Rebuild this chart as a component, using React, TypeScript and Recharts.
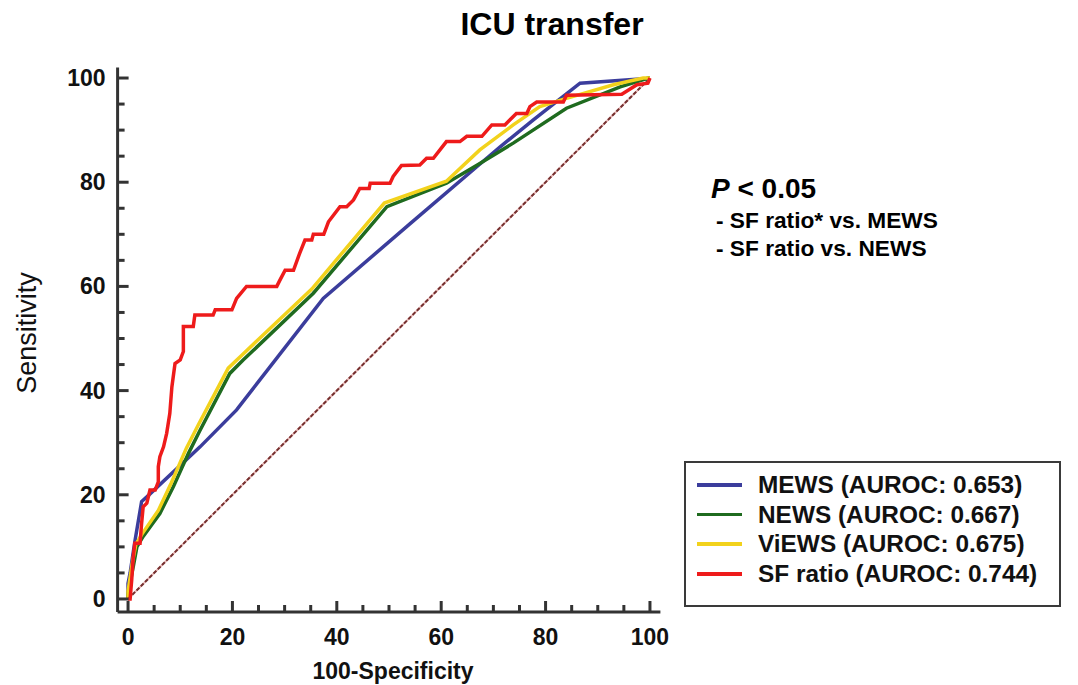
import { Line, LineChart, XAxis, YAxis } from "recharts";

// ROC points: x = 100-Specificity, y = Sensitivity
const mewsFpr = [0, 0, 0.4, 1.3, 2.6, 3.6, 13.8, 20.8, 37.4, 54, 71.3, 77.6, 86.6, 99.4, 100];
const mewsSens = [0, 3, 5, 11, 18.7, 19.6, 29.2, 36.3, 57.7, 72, 86.8, 91.9, 99, 99.9, 100];

const newsFpr = [0, 0, 1, 1.7, 2.9, 6.1, 8.7, 11.6, 13.8, 19.5, 22.1, 35.5, 49.6, 61, 67.4, 73.8, 84, 94.3, 99.4, 100];
const newsSens = [0, 1, 6.2, 10, 12, 16.4, 21.6, 28, 32.4, 43.3, 45.9, 58.7, 75.3, 79.8, 83.6, 87.5, 94.2, 98.3, 99.9, 100];

const viewsFpr = [0, 0, 0.8, 1.5, 2.7, 5.8, 8.3, 11.2, 13.5, 19.2, 21.8, 35.2, 49.1, 61, 67.4, 73.8, 78.9, 84, 93, 98.7, 100];
const viewsSens = [0, 1.5, 6.8, 10.5, 12.5, 17, 22.3, 29, 33.5, 44.3, 46.8, 59.5, 76, 80.2, 86.2, 91, 94.5, 96.1, 98.7, 100, 100];

const sfFpr = [
  0, 0.4, 0.7, 1, 1.3, 2.3, 2.6, 2.9, 3.6, 4.2, 5.2, 5.8, 5.8, 6.1, 6.8, 7.4, 8, 8.4, 9, 10, 10.6, 10.6,
  12.5, 12.8, 16.3, 16.7, 19.9, 20.8, 22.7, 28.5, 29.1, 30.1, 31.7, 32.9, 33.9, 35.2, 35.5, 37.5, 38.4,
  40.6, 41.9, 43.2, 44.4, 46.2, 46.4, 50.2, 50.8, 52.4, 55.9, 57.2, 58.5, 61, 63.6, 64.9, 67.8, 69.7,
  72.2, 74.4, 76.4, 77, 78.3, 83.4, 84, 94.6, 97.5, 99.6, 100,
];
const sfSens = [
  0, 0, 3.6, 8.1, 10.7, 10.7, 14.5, 17.7, 18.4, 20.9, 20.9, 22.5, 25.4, 27.3, 29.2, 31.8, 35.6, 40.7,
  45.2, 45.9, 47.5, 52.3, 52.3, 54.5, 54.5, 55.5, 55.5, 57.7, 60, 60, 61.2, 63.1, 63.1, 66.4, 68.9,
  68.9, 70, 70, 72.4, 75.3, 75.3, 76.6, 78.8, 78.8, 79.8, 79.8, 81.1, 83.2, 83.3, 84.6, 84.6, 87.8,
  87.8, 88.8, 88.8, 91, 91, 93.2, 93.2, 94.5, 95.4, 95.4, 96.7, 96.9, 98.7, 99, 100,
];

const refFpr = [0, 100];
const refSens = [0, 100];

const axisTicks = [0, 5, 10, 15, 20, 25, 30, 35, 40, 45, 50, 55, 60, 65, 70, 75, 80, 85, 90, 95, 100];
const labelTicks = [0, 20, 40, 60, 80, 100];

const toPoints = (xs: number[], ys: number[]) => xs.map((x, i) => ({ x, y: ys[i] }));

const series = [
  { name: "MEWS (AUROC: 0.653)", color: "#3b3d9c", data: toPoints(mewsFpr, mewsSens) },
  { name: "NEWS (AUROC: 0.667)", color: "#1f6b1f", data: toPoints(newsFpr, newsSens) },
  { name: "ViEWS (AUROC: 0.675)", color: "#f2d21c", data: toPoints(viewsFpr, viewsSens) },
  { name: "SF ratio (AUROC: 0.744)", color: "#ee1b1b", data: toPoints(sfFpr, sfSens) },
];

const FONT = '"Liberation Sans", Arial, sans-serif';
const AXIS = "#333333";

function XTick({ x, y, payload }: any) {
  const major = labelTicks.includes(payload.value);
  return (
    <g>
      <line x1={x} x2={x} y1={y} y2={y - (major ? 11 : 7)} stroke={AXIS} strokeWidth={3} />
      {major && (
        <text x={x} y={y + 33} textAnchor="middle" fontFamily={FONT} fontWeight="bold" fontSize={23} fill="#111">
          {payload.value}
        </text>
      )}
    </g>
  );
}

function YTick({ x, y, payload }: any) {
  const major = labelTicks.includes(payload.value);
  return (
    <g>
      <line x1={x} x2={x + (major ? 11 : 7)} y1={y} y2={y} stroke={AXIS} strokeWidth={3} />
      {major && (
        <text x={x - 12} y={y + 8} textAnchor="end" fontFamily={FONT} fontWeight="bold" fontSize={23} fill="#111">
          {payload.value}
        </text>
      )}
    </g>
  );
}

export default function App() {
  return (
    <div style={{ width: 1078, height: 685, padding: 8, boxSizing: "border-box", overflow: "hidden" }}>
      <style>{"html,body{margin:0;padding:0;overflow:hidden}"}</style>
      <div style={{ position: "relative", width: 1062, height: 677, fontFamily: FONT }}>
        <LineChart width={1062} height={669} margin={{ top: 59.6, right: 409.6, bottom: 25, left: 49.6 }}>
          <XAxis
            type="number"
            dataKey="x"
            domain={[-2, 102]}
            ticks={axisTicks}
            interval={0}
            allowDataOverflow
            height={40}
            tickSize={0}
            tickMargin={0}
            tickLine={false}
            axisLine={{ stroke: AXIS, strokeWidth: 3 }}
            tick={<XTick />}
          />
          <YAxis
            type="number"
            dataKey="y"
            domain={[-2.5, 102]}
            ticks={axisTicks}
            interval={0}
            allowDataOverflow
            width={60}
            tickSize={0}
            tickMargin={0}
            tickLine={false}
            axisLine={{ stroke: AXIS, strokeWidth: 3 }}
            tick={<YTick />}
          />
          <Line
            data={toPoints(refFpr, refSens)}
            dataKey="y"
            stroke="#e9b9b9"
            strokeWidth={2}
            dot={false}
            isAnimationActive={false}
          />
          <Line
            data={toPoints(refFpr, refSens)}
            dataKey="y"
            stroke="#74302f"
            strokeWidth={2}
            strokeDasharray="4 2"
            dot={false}
            isAnimationActive={false}
          />
          {series.map((s) => (
            <Line
              key={s.name}
              data={s.data}
              dataKey="y"
              name={s.name}
              type="linear"
              stroke={s.color}
              strokeWidth={3.5}
              strokeLinejoin="miter"
              dot={false}
              isAnimationActive={false}
            />
          ))}
        </LineChart>

        <svg
          width={1062}
          height={677}
          style={{ position: "absolute", left: 0, top: 0, overflow: "visible", pointerEvents: "none" }}
        >
          <text x={544} y={27} textAnchor="middle" fontFamily={FONT} fontWeight="bold" fontSize={32} fill="#000">
            ICU transfer
          </text>
          <text
            transform="translate(19, 325) rotate(-90)"
            textAnchor="middle"
            dominantBaseline="central"
            fontFamily={FONT}
            fontSize={27}
            fill="#111"
          >
            Sensitivity
          </text>
          <text x={385} y={671} textAnchor="middle" fontFamily={FONT} fontWeight="bold" fontSize={23} fill="#111">
            100-Specificity
          </text>
          <text x={703} y={190} fontFamily={FONT} fontWeight="bold" fontSize={28} fill="#000">
            <tspan fontStyle="italic">P</tspan> &lt; 0.05
          </text>
          <text x={708} y={220} fontFamily={FONT} fontWeight="bold" fontSize={22.7} fill="#000">
            - SF ratio* vs. MEWS
          </text>
          <text x={708} y={248} fontFamily={FONT} fontWeight="bold" fontSize={22.7} fill="#000">
            - SF ratio vs. NEWS
          </text>
        </svg>

        <div
          style={{
            position: "absolute",
            left: 676,
            top: 453,
            width: 373,
            height: 135,
            border: "2px solid #3a3a3a",
            paddingTop: 7,
            boxSizing: "content-box",
          }}
        >
          {series.map((s) => (
            <div key={s.name} style={{ display: "flex", alignItems: "center", height: 29.7 }}>
              <span style={{ display: "inline-block", marginLeft: 11, width: 45, height: 3.5, background: s.color }} />
              <span style={{ marginLeft: 16, fontWeight: "bold", fontSize: 24.4, color: "#111", whiteSpace: "nowrap" }}>
                {s.name}
              </span>
            </div>
          ))}
        </div>
      </div>
    </div>
  );
}
